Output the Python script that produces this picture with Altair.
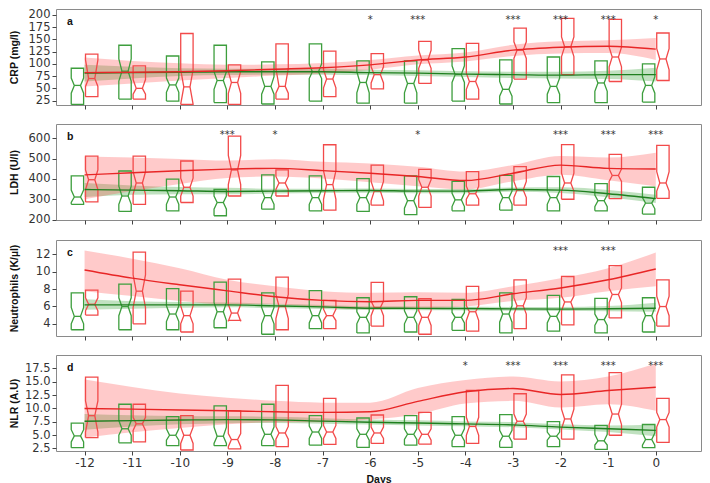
import altair as alt
import pandas as pd

DAYS = list(range(-12, 1))
XDOM = [-12.6, 0.95]
GREEN_BOX = "#3d9e3d"
RED_BOX = "#f24a4a"
GREEN_LINE = "#1f7f1f"
RED_LINE = "#e82626"
GREEN_BAND = "#2e9a2e"
RED_BAND = "#ff3a3a"
FONT = "DejaVu Sans"
TFONT = "Liberation Sans"

# ---------------- Panel a: CRP ----------------
CRP_G_Q3 = [91, 138, 116, 138, 104, 141, 106, 106, 131, 108, 114, 106, 100]
CRP_G_Q1 = [17, 28, 24, 21, 18, 24, 20, 20, 24, 18, 21, 21, 22]
CRP_G_MED = [56, 85, 57, 66, 54, 84, 62, 60, 78, 48, 54, 61, 56]
CRP_G_NLO = [40, 65, 42, 48, 38, 70, 41, 41, 62, 34, 38, 44, 40]
CRP_G_NHI = [71, 110, 71, 84, 74, 100, 84, 78, 96, 64, 71, 78, 74]
CRP_R_Q3 = [120, 96, 162, 98, 141, 126, 121, 146, 142, 173, 193, 191, 163]
CRP_R_Q1 = [33, 28, 17, 17, 28, 33, 49, 60, 28, 69, 78, 64, 66]
CRP_R_MED = [70, 50, 53, 62, 54, 69, 78, 108, 64, 128, 135, 114, 110]
CRP_R_NLO = [54, 38, 18, 40, 40, 51, 61, 91, 48, 111, 115, 94, 88]
CRP_R_NHI = [108, 68, 88, 85, 91, 88, 94, 128, 81, 145, 155, 134, 131]
CRP_R_FIT = [82, 83, 84, 86, 89, 92, 98, 108, 114, 128, 134, 136, 130]
CRP_R_LO = [54, 60, 66, 71, 76, 80, 88, 99, 105, 116, 121, 122, 108]
CRP_R_HI = [113, 106, 101, 98, 99, 102, 108, 117, 123, 139, 146, 148, 153]
CRP_G_FIT = [81, 82, 83, 84, 84, 84, 82, 81, 79, 78, 77, 78, 78]
CRP_G_LO = [64, 70, 75, 77, 78, 78, 77, 75, 73, 71, 70, 69, 64]
CRP_G_HI = [98, 94, 91, 90, 90, 90, 88, 87, 85, 84, 84, 86, 92]
CRP_STAR_DAYS = [-6, -5, -3, -2, -1, 0]
CRP_STARS = ["*", "***", "***", "***", "***", "*"]

# ---------------- Panel b: LDH ----------------
LDH_G_Q3 = [415, 439, 399, 348, 420, 415, 401, 415, 388, 417, 412, 377, 359]
LDH_G_Q1 = [275, 240, 243, 219, 251, 243, 240, 224, 243, 247, 243, 243, 227]
LDH_G_MED = [311, 316, 311, 284, 308, 308, 308, 293, 297, 308, 308, 293, 281]
LDH_G_NLO = [284, 275, 275, 251, 275, 275, 275, 256, 264, 275, 275, 264, 253]
LDH_G_NHI = [345, 364, 348, 316, 348, 348, 340, 329, 329, 340, 340, 321, 308]
LDH_R_Q3 = [512, 512, 488, 610, 444, 568, 468, 447, 436, 460, 569, 521, 565]
LDH_R_Q1 = [287, 275, 284, 316, 316, 247, 271, 260, 271, 271, 300, 303, 304]
LDH_R_MED = [396, 380, 359, 444, 380, 372, 340, 359, 327, 345, 380, 417, 380]
LDH_R_NLO = [348, 324, 316, 372, 348, 300, 292, 316, 300, 308, 340, 388, 340]
LDH_R_NHI = [444, 436, 404, 516, 412, 440, 388, 396, 364, 388, 428, 449, 436]
LDH_R_FIT = [420, 430, 440, 448, 452, 441, 428, 412, 392, 428, 468, 452, 449]
LDH_R_LO = [300, 340, 375, 404, 412, 402, 383, 364, 348, 388, 420, 393, 364]
LDH_R_HI = [510, 505, 498, 490, 497, 484, 476, 460, 436, 468, 513, 505, 529]
LDH_G_FIT = [348, 345, 342, 338, 340, 342, 343, 340, 340, 348, 345, 327, 303]
LDH_G_LO = [311, 322, 325, 324, 328, 331, 332, 330, 330, 337, 331, 310, 281]
LDH_G_HI = [380, 368, 360, 356, 352, 352, 353, 351, 350, 358, 359, 346, 322]
LDH_STAR_DAYS = [-9, -8, -5, -2, -1, 0]
LDH_STARS = ["***", "*", "*", "***", "***", "***"]

# ---------------- Panel c: Neutrophils ----------------
NEU_G_Q3 = [7.57, 8.58, 8.06, 8.81, 7.57, 7.83, 7.0, 7.12, 6.82, 7.57, 7.27, 6.93, 7.0]
NEU_G_Q1 = [3.32, 3.32, 3.32, 3.55, 2.8, 3.44, 2.95, 3.06, 3.25, 2.95, 3.17, 2.95, 3.06]
NEU_G_MED = [4.86, 5.99, 5.13, 5.39, 4.94, 4.94, 4.75, 4.75, 4.75, 5.13, 4.86, 4.49, 4.94]
NEU_G_NLO = [4.0, 4.94, 4.26, 4.38, 4.0, 4.11, 4.0, 4.0, 4.11, 4.19, 4.11, 3.81, 4.11]
NEU_G_NHI = [5.88, 7.0, 6.07, 6.44, 5.88, 5.88, 5.39, 5.5, 5.31, 6.07, 5.5, 5.13, 5.88]
NEU_R_Q3 = [7.87, 12.26, 7.76, 9.15, 9.37, 6.7, 8.77, 6.89, 8.32, 9.07, 9.45, 10.69, 9.07]
NEU_R_Q1 = [5.01, 4.0, 3.06, 4.4, 3.32, 3.44, 3.74, 2.8, 3.17, 3.44, 3.89, 4.68, 3.74]
NEU_R_MED = [6.25, 7.76, 4.94, 5.24, 6.0, 4.94, 5.88, 4.75, 5.39, 6.07, 6.52, 7.38, 5.99]
NEU_R_NLO = [5.5, 5.88, 4.0, 4.3, 4.6, 4.38, 4.94, 3.81, 4.38, 5.13, 5.5, 6.44, 4.94]
NEU_R_NHI = [7.0, 9.63, 6.07, 6.25, 7.4, 5.69, 6.63, 5.5, 6.07, 7.0, 7.19, 8.13, 7.19]
NEU_R_FIT = [10.2, 9.26, 8.5, 7.8, 7.12, 6.7, 6.55, 6.7, 6.7, 7.46, 8.13, 9.07, 10.31]
NEU_R_LO = [7.76, 7.2, 6.63, 6.25, 6.25, 5.88, 5.69, 5.76, 5.99, 6.63, 7.0, 7.76, 8.32]
NEU_R_HI = [12.45, 11.5, 10.4, 9.07, 8.32, 7.76, 7.57, 7.64, 7.57, 8.32, 9.26, 10.4, 12.2]
NEU_G_FIT = [6.18, 6.18, 6.18, 6.18, 6.07, 5.95, 5.8, 5.78, 5.76, 5.72, 5.69, 5.73, 5.8]
NEU_G_LO = [5.61, 5.75, 5.85, 5.9, 5.82, 5.72, 5.58, 5.56, 5.54, 5.5, 5.47, 5.45, 5.39]
NEU_G_HI = [6.82, 6.6, 6.5, 6.45, 6.32, 6.18, 6.02, 6.0, 5.98, 5.95, 5.93, 6.05, 6.44]
NEU_STAR_DAYS = [-2, -1]
NEU_STARS = ["***", "***"]

# ---------------- Panel d: NLR ----------------
NLR_G_Q3 = [7.22, 10.77, 8.44, 10.46, 10.77, 8.62, 8.19, 8.62, 8.44, 8.81, 7.52, 6.79, 6.97]
NLR_G_Q1 = [2.62, 3.54, 2.99, 2.99, 2.99, 3.11, 2.68, 3.11, 2.81, 2.68, 2.81, 2.32, 2.62]
NLR_G_MED = [4.83, 6.17, 4.95, 4.77, 5.13, 5.56, 5.13, 5.13, 4.95, 4.77, 4.77, 3.91, 4.15]
NLR_G_NLO = [3.72, 4.95, 4.03, 3.42, 3.91, 4.34, 4.03, 4.15, 3.91, 3.72, 4.03, 3.11, 3.11]
NLR_G_NHI = [5.99, 7.7, 6.17, 6.48, 6.48, 6.66, 6.17, 6.17, 6.17, 5.87, 5.56, 5.13, 5.38]
NLR_R_Q3 = [15.85, 10.77, 8.62, 9.54, 14.32, 11.87, 8.75, 9.24, 13.34, 12.73, 16.28, 16.71, 11.87]
NLR_R_Q1 = [4.52, 3.72, 2.19, 2.4, 2.81, 3.23, 3.42, 3.3, 3.42, 4.21, 4.21, 4.95, 3.6]
NLR_R_MED = [8.62, 7.09, 4.95, 4.15, 5.38, 5.56, 5.38, 5.13, 6.6, 7.58, 8.01, 8.93, 7.89]
NLR_R_NLO = [5.56, 5.87, 3.42, 2.8, 4.2, 4.34, 4.34, 4.03, 4.95, 6.48, 6.17, 6.97, 6.48]
NLR_R_NHI = [11.38, 8.32, 6.48, 5.26, 6.6, 6.79, 6.48, 6.17, 8.32, 8.93, 9.85, 10.77, 9.24]
NLR_R_FIT = [9.97, 9.85, 9.7, 9.54, 9.36, 9.24, 9.36, 11.3, 13.1, 13.71, 12.6, 13.34, 13.95]
NLR_R_LO = [4.5, 5.5, 6.3, 7.0, 7.4, 7.4, 7.9, 8.9, 10.9, 11.4, 10.15, 10.77, 9.54]
NLR_R_HI = [15.4, 14.0, 12.8, 12.0, 11.4, 11.07, 11.07, 13.8, 15.3, 15.97, 15.05, 15.97, 18.42]
NLR_G_FIT = [7.58, 7.7, 7.8, 7.89, 7.83, 7.6, 7.4, 7.25, 7.09, 6.9, 6.48, 6.17, 5.87]
NLR_G_LO = [5.99, 6.6, 7.0, 7.2, 7.25, 7.1, 6.95, 6.8, 6.65, 6.45, 6.05, 5.56, 4.77]
NLR_G_HI = [8.93, 8.7, 8.55, 8.5, 8.4, 8.15, 7.9, 7.75, 7.55, 7.4, 7.0, 6.79, 6.97]
NLR_STAR_DAYS = [-4, -3, -2, -1, 0]
NLR_STARS = ["*", "***", "***", "***", "***"]

BOX_OFFSET = 0.15
BOX_HALF = 0.13
W, H = 645, 96


def box_tables(q1, nlo, med, nhi, q3, offset):
    rows, meds = [], []
    for i, d in enumerate(DAYS):
        c = d + offset
        L, R = c - BOX_HALF, c + BOX_HALF
        li, ri = c - BOX_HALF / 2, c + BOX_HALF / 2
        pts = [(L, q1[i]), (R, q1[i]), (R, nlo[i]), (ri, med[i]), (R, nhi[i]),
               (R, q3[i]), (L, q3[i]), (L, nhi[i]), (li, med[i]), (L, nlo[i]), (L, q1[i])]
        for k, (x, y) in enumerate(pts):
            rows.append({"box": i, "k": k, "x": x, "y": y})
        meds.append({"x": li, "x2": ri, "y": med[i]})
    return pd.DataFrame(rows), pd.DataFrame(meds)


def panel(letter, title, ydom, yticks, yfmt, g, r, gfit, rfit, star_days, stars, last):
    if last:
        xaxis = alt.Axis(values=DAYS, labelExpr="'' + datum.value", title="Days",
                         grid=False, domain=False, tickSize=4, labelFontSize=12,
                         labelPadding=2, titleFontSize=10.5, titleFontWeight="bold",
                         titleFont=TFONT, titlePadding=6)
    else:
        xaxis = alt.Axis(values=DAYS, labels=False, title=None, grid=False,
                         domain=False, tickSize=4)
    yaxis = alt.Axis(values=yticks, format=yfmt, title=title, grid=False, domain=False,
                     tickSize=4, labelFontSize=11.5, labelPadding=2, titleFontSize=10.5,
                     titleFontWeight="bold", titleFont=TFONT,
                     minExtent=29, maxExtent=29, titlePadding=8)
    xs = alt.Scale(domain=XDOM, nice=False, zero=False)
    ys = alt.Scale(domain=ydom, nice=False, zero=False)
    X = alt.X("x:Q", scale=xs, axis=xaxis)
    Y = alt.Y("y:Q", scale=ys, axis=yaxis)

    layers = []
    fits = {}
    for key, fit, col in (("g", gfit, GREEN_BAND), ("r", rfit, RED_BAND)):
        df = pd.DataFrame({"x": DAYS, "y": fit[0], "lo": fit[1], "hi": fit[2]})
        fits[key] = df
        op = 0.3 if key == "g" else 0.27
        layers.append(alt.Chart(df).mark_area(color=col, opacity=op, interpolate="monotone", clip=True)
                      .encode(x=X, y=alt.Y("lo:Q", scale=ys, axis=yaxis), y2="hi:Q"))
    for stats, off, col in ((g, -BOX_OFFSET, GREEN_BOX), (r, BOX_OFFSET, RED_BOX)):
        bdf, mdf = box_tables(*stats, off)
        layers.append(alt.Chart(bdf).mark_line(color=col, strokeWidth=1.3, clip=True)
                      .encode(x=X, y=Y, detail="box:N", order="k:Q"))
        layers.append(alt.Chart(mdf).mark_rule(color=col, strokeWidth=1.3, clip=True)
                      .encode(x=X, x2="x2:Q", y=Y))
    for key, col in (("g", GREEN_LINE), ("r", RED_LINE)):
        layers.append(alt.Chart(fits[key]).mark_line(color=col, strokeWidth=1.4, interpolate="monotone", clip=True)
                      .encode(x=X, y=Y))
    sdf = pd.DataFrame({"x": star_days, "t": stars})
    layers.append(alt.Chart(sdf).mark_text(fontSize=10, color="#333333", font=FONT, baseline="alphabetic")
                  .encode(x=X, y=alt.value(14), text="t:N"))
    ldf = pd.DataFrame({"t": [letter]})
    layers.append(alt.Chart(ldf).mark_text(fontSize=10.5, fontWeight="bold", color="#111111", font=TFONT,
                                           align="left", baseline="middle")
                  .encode(x=alt.value(11), y=alt.value(13), text="t:N"))
    return alt.layer(*layers).properties(width=W, height=H)


pa = panel("a", "CRP (mg/l)", [16, 212], [25, 50, 75, 100, 125, 150, 175, 200], "d",
           (CRP_G_Q1, CRP_G_NLO, CRP_G_MED, CRP_G_NHI, CRP_G_Q3),
           (CRP_R_Q1, CRP_R_NLO, CRP_R_MED, CRP_R_NHI, CRP_R_Q3),
           (CRP_G_FIT, CRP_G_LO, CRP_G_HI), (CRP_R_FIT, CRP_R_LO, CRP_R_HI),
           CRP_STAR_DAYS, CRP_STARS, False)
pb = panel("b", "LDH (U/l)", [198, 670], [200, 300, 400, 500, 600], "d",
           (LDH_G_Q1, LDH_G_NLO, LDH_G_MED, LDH_G_NHI, LDH_G_Q3),
           (LDH_R_Q1, LDH_R_NLO, LDH_R_MED, LDH_R_NHI, LDH_R_Q3),
           (LDH_G_FIT, LDH_G_LO, LDH_G_HI), (LDH_R_FIT, LDH_R_LO, LDH_R_HI),
           LDH_STAR_DAYS, LDH_STARS, False)
pc = panel("c", "Neutrophils (K/µl)", [2.6, 13.65], [4, 6, 8, 10, 12], "d",
           (NEU_G_Q1, NEU_G_NLO, NEU_G_MED, NEU_G_NHI, NEU_G_Q3),
           (NEU_R_Q1, NEU_R_NLO, NEU_R_MED, NEU_R_NHI, NEU_R_Q3),
           (NEU_G_FIT, NEU_G_LO, NEU_G_HI), (NEU_R_FIT, NEU_R_LO, NEU_R_HI),
           NEU_STAR_DAYS, NEU_STARS, False)
pd_ = panel("d", "NLR (A.U)", [2.0, 20.0], [2.5, 5.0, 7.5, 10.0, 12.5, 15.0, 17.5], ".1f",
            (NLR_G_Q1, NLR_G_NLO, NLR_G_MED, NLR_G_NHI, NLR_G_Q3),
            (NLR_R_Q1, NLR_R_NLO, NLR_R_MED, NLR_R_NHI, NLR_R_Q3),
            (NLR_G_FIT, NLR_G_LO, NLR_G_HI), (NLR_R_FIT, NLR_R_LO, NLR_R_HI),
            NLR_STAR_DAYS, NLR_STARS, True)

chart = alt.vconcat(pa, pb, pc, pd_, spacing=13).properties(
    padding={"left": 0, "top": 0, "right": 0, "bottom": 0}
).configure_view(stroke="#8a8a8a", strokeWidth=1).configure_axis(
    labelFont=FONT, titleFont=TFONT, labelColor="#333333", titleColor="#111111",
    tickColor="#444444"
)

chart.save("out.html", embed_options={"renderer": "svg", "actions": False})
